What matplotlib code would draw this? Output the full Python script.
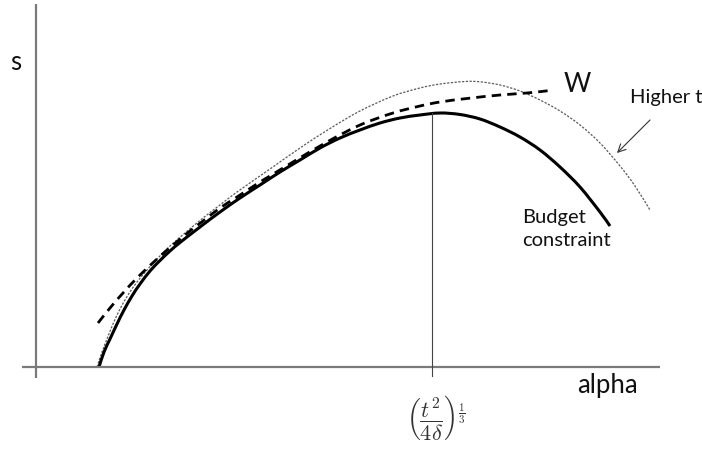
import matplotlib
matplotlib.use("Agg")
import matplotlib.pyplot as plt
import numpy as np
from matplotlib.path import Path
from matplotlib.patches import PathPatch

plt.rcParams['font.family'] = ['Lato', 'DejaVu Sans']
plt.rcParams['mathtext.fontset'] = 'cm'

# Budget constraint (solid)
alpha_budget = [63, 68, 74, 81, 88, 96, 104, 114, 124, 134, 144, 164, 184, 204, 224,
                244, 264, 284, 304, 324, 344, 364, 384, 404, 424, 444, 464, 484,
                504, 524, 544, 564, 574]
s_budget = [0, 15, 28, 43, 57, 71, 83, 96, 106.5, 116, 124.5, 140, 155, 169, 182,
            195, 207, 219, 229, 237, 244, 249, 252, 254, 252.5, 248, 240, 230,
            217, 200, 180, 155, 141]

# Budget constraint for a higher t (thin dotted)
alpha_high_t = [61, 66, 71, 77, 84, 92, 101, 111, 122, 134, 149, 167, 184, 201, 234,
                264, 294, 324, 357, 384, 404, 429, 444, 464, 484, 504, 524, 544,
                564, 584, 599, 614]
s_high_t = [0, 15, 28, 43, 58, 72, 85, 97, 109, 121, 134, 149, 162, 175, 198,
            219, 238.5, 256, 271, 279, 283, 285.5, 285.2, 282, 276, 267, 256, 242,
            224, 201, 181, 157]

# Indifference curve W (dashed)
alpha_w = [62, 74, 87, 102, 121, 137, 154, 167, 184, 201, 224, 234, 257, 291, 324,
           357, 384, 404, 431, 464, 491, 514]
s_w = [44, 59, 74, 90, 108, 122, 136, 146, 159, 170, 185, 191, 205, 225, 242,
       254, 261, 265, 268.5, 272, 274, 276.5]

alpha_star = 396   # peak of the budget constraint
s_star = 254


def smooth_path(xs, ys):
    """Catmull-Rom curve through the points, as cubic Bezier segments."""
    p = np.column_stack([xs, ys]).astype(float)
    p = np.vstack([p[0], p, p[-1]])
    verts = [p[1]]
    codes = [Path.MOVETO]
    for i in range(1, len(p) - 2):
        c1 = p[i] + (p[i + 1] - p[i - 1]) / 6
        c2 = p[i + 1] - (p[i + 2] - p[i]) / 6
        verts += [c1, c2, p[i + 1]]
        codes += [Path.CURVE4] * 3
    return Path(verts, codes)


fig = plt.figure(figsize=(7.02, 4.5), dpi=100)
ax = fig.add_axes([0, 0, 1, 1])
ax.set_xlim(-36, 666)
ax.set_ylim(-83, 367)
ax.axis('off')

# axes drawn by hand
ax.plot([0, 0], [-11, 363], color='#7a7a7a', lw=1.6, solid_capstyle='butt')
ax.plot([-14, 624], [0, 0], color='#7a7a7a', lw=1.6, solid_capstyle='butt')

ax.add_patch(PathPatch(smooth_path(alpha_high_t, s_high_t), fill=False,
                       edgecolor='#5a5a5a', lw=0.9, linestyle=(0, (1.8, 1.2))))
ax.add_patch(PathPatch(smooth_path(alpha_w, s_w), fill=False,
                       edgecolor='black', lw=2.0, linestyle=(0, (3.4, 2.2))))
ax.add_patch(PathPatch(smooth_path(alpha_budget, s_budget), fill=False,
                       edgecolor='black', lw=2.2, capstyle='butt'))

ax.plot([alpha_star, alpha_star], [-9, s_star], color='#444444', lw=0.8)

ax.text(-20, 305, 's', fontsize=18.5, ha='center', va='center', color='#111111')
ax.text(541, 283, 'W', fontsize=19, ha='center', va='center', color='#111111')
ax.text(594, 270, 'Higher t', fontsize=14.5, ha='left', va='center', color='#111111')
ax.text(486, 138, 'Budget\nconstraint', fontsize=14.5, ha='left', va='center',
        linespacing=1.4, color='#111111')
ax.text(541, -18, 'alpha', fontsize=18.5, ha='left', va='center', color='#111111')
ax.text(400, -50, r'$\left(\dfrac{t^2}{4\delta}\right)^{\frac{1}{3}}$', fontsize=16,
        ha='center', va='center', color='#333333')

ax.annotate('', xy=(579, 212), xytext=(616, 249),
            arrowprops=dict(arrowstyle='->', color='#333333', lw=0.8,
                            mutation_scale=14))

fig.savefig('out.png', dpi=100, facecolor='white')
